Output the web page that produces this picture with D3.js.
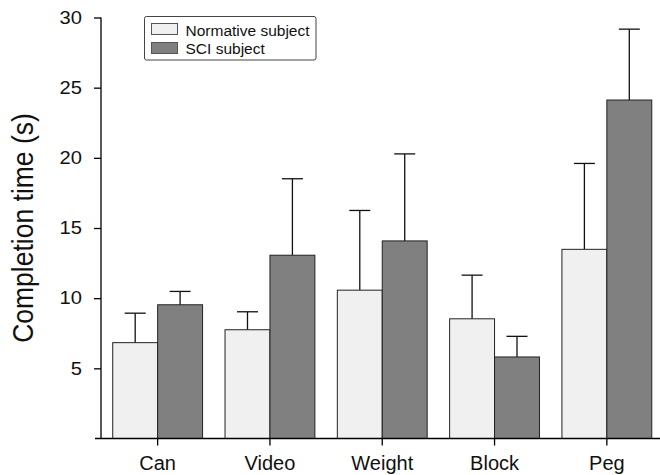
<!DOCTYPE html>
<html>
<head>
<meta charset="utf-8">
<script src="https://cdn.jsdelivr.net/npm/d3@7"></script>
<style>
  html, body { margin: 0; padding: 0; background: #fff; }
  svg { display: block; font-family: "Liberation Sans", Arial, Helvetica, sans-serif; }
</style>
</head>
<body>
<svg id="chart" width="660" height="475"></svg>
<script>
const categories = ["Can", "Video", "Weight", "Block", "Peg"];
const seriesNames = ["Normative subject", "SCI subject"];
const normativeMean = [6.83, 7.75, 10.57, 8.53, 13.48];
const normativeErrTop = [8.93, 9.03, 16.25, 11.64, 19.6];
const sciMean = [9.53, 13.06, 14.08, 5.81, 24.12];
const sciErrTop = [10.48, 18.51, 20.28, 7.28, 29.17];
const yTicks = [5, 10, 15, 20, 25, 30];
const yLabel = "Completion time (s)";

const colors = ["#f0f0f0", "#808080"];

const svg = d3.select("#chart");

const x = d3.scaleBand().domain(categories).range([101.5, 663]).paddingInner(0.2).paddingOuter(0.1);
const xs = d3.scaleBand().domain(seriesNames).range([0, x.bandwidth()]);
const y = d3.scaleLinear().domain([0, 30]).range([438.5, 17.5]);

const data = categories.map((c, i) => ({
  cat: c,
  vals: [
    {s: seriesNames[0], v: normativeMean[i], e: normativeErrTop[i], c: colors[0]},
    {s: seriesNames[1], v: sciMean[i], e: sciErrTop[i], c: colors[1]}
  ]
}));

const groups = svg.append("g").selectAll("g").data(data).join("g")
  .attr("transform", d => `translate(${x(d.cat)},0)`);

// error bars (behind bars)
groups.selectAll("g.err").data(d => d.vals).join("g").attr("class", "err")
  .each(function(d) {
    const g = d3.select(this);
    const cx = xs(d.s) + xs.bandwidth() / 2;
    g.append("line").attr("x1", cx).attr("x2", cx).attr("y1", y(d.v)).attr("y2", y(d.e))
      .attr("stroke", "#111").attr("stroke-width", 1.3);
    g.append("line").attr("x1", cx - 10.5).attr("x2", cx + 10.5).attr("y1", y(d.e)).attr("y2", y(d.e))
      .attr("stroke", "#111").attr("stroke-width", 1.3);
  });

groups.selectAll("rect").data(d => d.vals).join("rect")
  .attr("x", d => xs(d.s))
  .attr("width", xs.bandwidth())
  .attr("y", d => y(d.v))
  .attr("height", d => y(0) - y(d.v))
  .attr("fill", d => d.c)
  .attr("stroke", "#222")
  .attr("stroke-width", 1);

// Y axis
const yAxis = svg.append("g").attr("transform", "translate(101,0)")
  .call(d3.axisLeft(y).tickValues(yTicks).tickSize(7).tickPadding(12).tickSizeOuter(0));
yAxis.select(".domain").attr("d", `M0,${y(30)}V${y(0)}`).attr("stroke", "#000").attr("stroke-width", 1.3);
yAxis.selectAll(".tick line").attr("stroke", "#000").attr("stroke-width", 1.3);
yAxis.selectAll(".tick text").attr("font-size", 18).attr("fill", "#111")
  .attr("font-family", "Liberation Sans, Arial, sans-serif")
  .attr("x", 0)
  .attr("transform", "translate(-19,0) scale(1.12,1)");

// X axis
const xAxis = svg.append("g").attr("transform", `translate(0,${y(0)})`)
  .call(d3.axisBottom(x).tickSize(7).tickPadding(10).tickSizeOuter(0));
xAxis.select(".domain").attr("d", "M95,0H660").attr("stroke", "#000").attr("stroke-width", 1.3);
xAxis.selectAll(".tick line").attr("stroke", "#000").attr("stroke-width", 1.3);
xAxis.selectAll(".tick text").attr("font-size", 20).attr("fill", "#111")
  .attr("font-family", "Liberation Sans, Arial, sans-serif");

// Y label
svg.append("text")
  .attr("transform", `translate(33,${(y(0) + y(30)) / 2}) rotate(-90) scale(1,1.1)`)
  .attr("text-anchor", "middle")
  .attr("font-size", 26.5)
  .attr("fill", "#111")
  .text(yLabel);

// Legend
const lg = svg.append("g");
lg.append("rect").attr("x", 144.5).attr("y", 16.5).attr("width", 171.5).attr("height", 43.5)
  .attr("rx", 2).attr("fill", "#fff").attr("stroke", "#444").attr("stroke-width", 1);
seriesNames.forEach((s, i) => {
  lg.append("rect").attr("x", 151.5).attr("y", 23.5 + i * 19).attr("width", 26).attr("height", 11)
    .attr("fill", colors[i]).attr("stroke", "#555").attr("stroke-width", 1);
  lg.append("text").attr("x", 185.5).attr("y", 35.5 + i * 18.5).attr("font-size", 15.5)
    .attr("fill", "#111").text(s);
});
</script>
</body>
</html>
